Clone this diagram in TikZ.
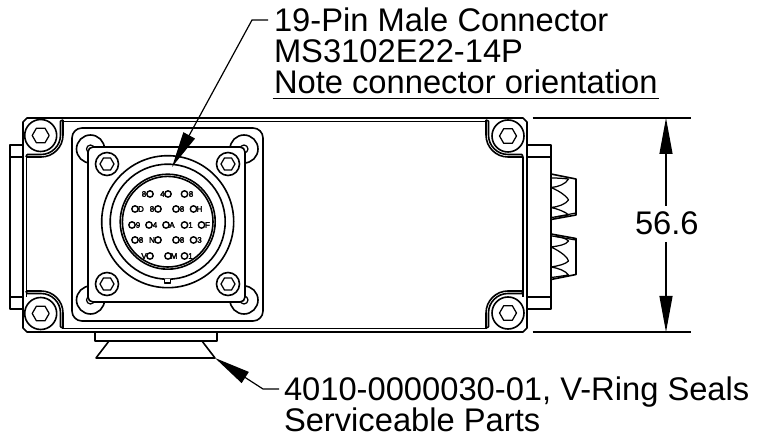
\documentclass[tikz,border=0pt]{standalone}
\usepackage{fontspec}
\setmainfont{Liberation Sans}
\newfontfamily\pinfont[FakeBold=3]{Liberation Sans}
\usetikzlibrary{arrows.meta}
\tikzset{
  ln/.style={line width=1.6pt,black,line join=round},
  thin ln/.style={line width=1.25pt,black,line join=round},
  lbl/.style={anchor=base west,inner sep=0pt,outer sep=0pt,font=\fontsize{32.7}{36}\selectfont},
  leader/.style={line width=1.2pt,black},
  tipped/.style={line width=1.2pt,black,-{Triangle[length=36pt,width=13pt]}},
  pinc/.style={line width=1.4pt,black},
  pint/.style={inner sep=0pt,font=\pinfont\fontsize{8}{9}\selectfont}
}
\newcommand{\hexa}[3]{\draw[thin ln] (#1-#3,#2) -- (#1-#3/2,#2-.866*#3) -- (#1+#3/2,#2-.866*#3) -- (#1+#3,#2) -- (#1+#3/2,#2+.866*#3) -- (#1-#3/2,#2+.866*#3) -- cycle;}
\newcommand{\pocket}[4]{%
  \begin{scope}[shift={(#1,#2)},xscale=#3,yscale=#4]
    \draw[ln] (22,-15) -- (22,0) .. controls (22,12.15) and (12.15,22) .. (0,22) -- (-15,22);
    \draw[ln] (19.5,-14) -- (19.5,0) .. controls (19.5,10.8) and (10.8,19.5) .. (0,19.5) -- (-14,19.5);
    \draw[ln] (22,-15) -- (19.5,-14) (-15,22) -- (-14,19.5);
  \end{scope}}
\newcommand{\pinR}[3]{\draw[pinc] (#1,#2) circle[radius=3.2pt]; \node[pint] at (#1+6,#2) {#3};}
\newcommand{\pinL}[3]{\draw[pinc] (#1,#2) circle[radius=3.2pt]; \node[pint] at (#1-6,#2) {#3};}
\begin{document}
\begin{tikzpicture}[x=1pt,y=-1pt]
\useasboundingbox (0,0) rectangle (758,443);
% side plates
\draw[ln] (23,145) -- (10,145) -- (10,309) -- (23,309);
\draw[ln] (10,157) -- (23,157) (10,297) -- (23,297);
\draw[ln] (527,145) -- (551,145) -- (551,309) -- (527,309);
\draw[ln] (527,157) -- (551,157) (527,297) -- (551,297);
% body
\draw[ln] (27,118) -- (523,118) -- (527,122) -- (527,328) -- (523,332) -- (27,332) -- (23,328) -- (23,122) -- cycle;
\draw[ln] (62,121.5) -- (487,121.5) (62,328.5) -- (487,328.5);
\draw[ln] (26.5,157) -- (26.5,297) (523,157) -- (523,297);
\pocket{41}{135}{1}{1}
\pocket{41}{313}{1}{-1}
\pocket{508}{135}{-1}{1}
\pocket{508}{313}{-1}{-1}
\foreach \a/\b in {40.7/135.5,40.7/313.5,508/136,508/313}{
  \draw[ln] (\a,\b) circle[radius=16pt];
  \hexa{\a}{\b}{8.5}
}
% connector mount
\draw[ln,rounded corners=10pt] (72,128) rectangle (263,321);
\foreach \a/\b in {90.5/149,244/149,90.5/300,244/300}{
  \draw[ln] (\a,\b) circle[radius=14pt];
  \draw[thin ln] (\a,\b) circle[radius=4pt];
}
\draw[ln,fill=white,rounded corners=5pt] (88,147) rectangle (245,302);
\foreach \a/\b in {107/164,228/164,107/284,228/284}{
  \draw[ln] (\a,\b) circle[radius=11.5pt];
  \hexa{\a}{\b}{7}
}
% connector rings
\draw[ln] (167.7,221.7) circle[radius=66pt];
\draw[ln] (167.7,221.7) circle[radius=57.5pt];
\draw[ln] (167.7,221.7) circle[radius=47.5pt];
\draw[ln] (167.7,221.7) circle[radius=45.3pt];
\draw[ln,fill=white] (164.5,279.3) -- (164.5,283) -- (170.5,283) -- (170.5,279);
% pins
\pinR{150}{194}{}\node[pint] at (144,194) {8};
\pinR{168}{194}{}\node[pint] at (162.5,194) {4};
\pinR{184.5}{194}{}\node[pint] at (191,194) {8};
\pinR{135}{209}{D}
\pinL{158}{209}{8}
\pinR{176}{209}{8}
\pinR{193.5}{209}{H}
\pinR{132}{225}{9}
\pinR{149}{225}{4}
\pinR{166}{225}{A}
\pinR{184.5}{225}{1}
\pinR{201.5}{225}{F}
\pinR{135}{240}{8}
\pinL{158}{240}{N}
\pinR{176}{240}{8}
\pinR{193.5}{240}{3}
\pinL{150}{256}{V}
\pinR{168}{256}{M}
\pinR{184.5}{256}{1}
% rear seals
\draw[ln] (551,174) -- (576,179) -- (576,215) -- (551,219.5);
\draw[thin ln] (555,217) -- (576,213);
\draw[thin ln] (551,178) .. controls (562,178) and (568,179) .. (568.5,179) .. controls (566,184) and (558,187) .. (551,187.5) .. controls (562,192) and (568,198) .. (568.5,200) .. controls (566,204) and (558,207) .. (551,207.5) .. controls (558,209) and (566,212) .. (568.5,215) .. controls (562,216) and (556,217) .. (551,217.5);
\draw[ln] (551,234) -- (576,238.5) -- (576,274.5) -- (551,279.5);
\draw[thin ln] (555,236.5) -- (576,240);
\draw[thin ln] (551,236) .. controls (558,236) and (566,238) .. (568.5,241) .. controls (566,245) and (558,246) .. (551,247) .. controls (562,252) and (568,258) .. (568.5,261) .. controls (566,264) and (558,266) .. (551,267) .. controls (558,268) and (566,271) .. (568.5,275) .. controls (562,276) and (556,277) .. (551,277.5);
% bottom seal
\draw[ln] (95,332) -- (95,341) -- (217,341) -- (217,332);
\draw[ln] (109,341) -- (96,358) -- (215,358) -- (202,341);
% dimension
\coordinate (dimtop) at (666,118);
\coordinate (dimbot) at (666,332);
\coordinate (dimtopgap) at (666,206);
\coordinate (dimbotgap) at (666,242);
\draw[leader] (532.5,118) -- (690.5,118);
\draw[leader] (532.5,332) -- (690.5,332);
\draw[tipped] (dimtopgap) -- (dimtop);
\draw[tipped] (dimbotgap) -- (dimbot);
\node[lbl] (dim) at (635,235) {56.6};
% top label
\node[lbl] (t1) at (274,32) {19-Pin Male Connector};
\node[lbl] (t2) at (274,62.5) {MS3102E22-14P};
\node[lbl] (t3) at (274,94) {Note connector orientation};
\draw[leader] (272.5,98.5) -- (658.5,98.5);
\coordinate (topend) at (268,20);
\coordinate (topelbow) at (252,20);
\coordinate (toptip) at (172,167);
\draw[tipped] (topend) -- (topelbow) -- (toptip);
% bottom label
\node[lbl] (b1) at (284,401) {4010-0000030-01, V-Ring Seals};
\node[lbl] (b2) at (284,432) {Serviceable Parts};
\coordinate (botend) at (279,389);
\coordinate (botelbow) at (263,389);
\coordinate (bottip) at (215,358);
\draw[tipped] (botend) -- (botelbow) -- (bottip);
\end{tikzpicture}
\end{document}
